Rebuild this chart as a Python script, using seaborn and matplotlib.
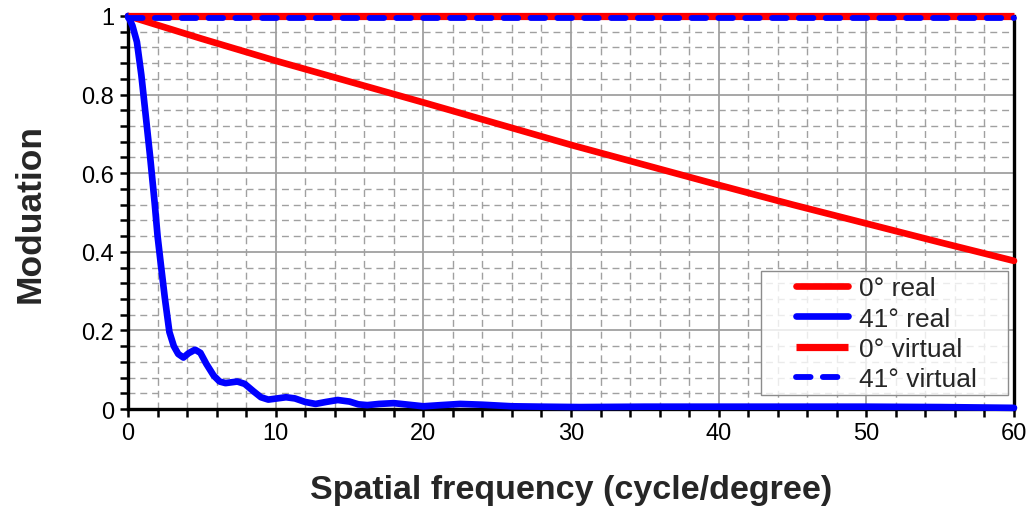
"""
MTF curves: modulation vs spatial frequency
"""
import matplotlib
matplotlib.use('Agg')
import matplotlib.pyplot as plt
from matplotlib.patches import Rectangle
from matplotlib.ticker import MultipleLocator, FuncFormatter
import seaborn as sns
import pandas as pd

# data
freq_red_real = [0, 5, 10, 15, 20, 25, 30, 35, 40, 45, 50, 55, 60]
mod_red_real = [1.0, 0.942, 0.886, 0.833, 0.780, 0.726, 0.672, 0.621, 0.570,
                0.520, 0.472, 0.424, 0.377]

freq_blue_real = [0, 0.3, 0.6, 0.9, 1.15, 1.5, 1.8, 2.0, 2.23, 2.5, 2.8, 3.1,
                  3.4, 3.75, 4.1, 4.54, 4.9, 5.3, 5.8, 6.2, 6.6, 7.0, 7.4,
                  7.9, 8.5, 9.0, 9.5, 10.1, 10.7, 11.3, 12.0, 12.7, 13.4,
                  14.2, 15.0, 15.6, 16.2, 17.0, 18.0, 19.0, 20.0, 21.2, 22.5,
                  24.0, 26.0, 28.0, 30.6, 35, 40, 45, 50, 55, 60]
mod_blue_real = [1.0, 0.975, 0.934, 0.85, 0.763, 0.64, 0.525, 0.44, 0.365,
                 0.28, 0.196, 0.16, 0.14, 0.131, 0.142, 0.151, 0.143, 0.115,
                 0.085, 0.07, 0.066, 0.068, 0.07, 0.064, 0.045, 0.03, 0.024,
                 0.027, 0.03, 0.027, 0.018, 0.013, 0.018, 0.023, 0.019, 0.012,
                 0.01, 0.013, 0.015, 0.011, 0.007, 0.01, 0.013, 0.011, 0.007,
                 0.006, 0.005, 0.006, 0.006, 0.006, 0.006, 0.005, 0.003]

freq_virtual = [0, 60]
mod_red_virtual = [1.0, 1.0]
mod_blue_virtual = [0.996, 0.996]

x_ticks = [0, 10, 20, 30, 40, 50, 60]
y_ticks = [0, 0.2, 0.4, 0.6, 0.8, 1.0]

sns.set_style('white')
plt.rcParams['font.family'] = ['Liberation Sans', 'DejaVu Sans']

fig = plt.figure(figsize=(10.31, 5.10), dpi=100)
ax = fig.add_axes([0.1242, 0.196, 0.8593, 0.7707])

# grid
ax.xaxis.set_major_locator(MultipleLocator(10))
ax.xaxis.set_minor_locator(MultipleLocator(2))
ax.yaxis.set_major_locator(MultipleLocator(0.2))
ax.yaxis.set_minor_locator(MultipleLocator(0.04))
ax.grid(True, which='major', color='#a0a0a0', lw=1.3, ls='-', zorder=0)
ax.grid(True, which='minor', color='#a0a0a0', lw=1.0, ls=(0, (5, 3.5)), zorder=0)
ax.set_axisbelow(True)

df_rr = pd.DataFrame({'f': freq_red_real, 'm': mod_red_real})
df_br = pd.DataFrame({'f': freq_blue_real, 'm': mod_blue_real})
df_v = pd.DataFrame({'f': freq_virtual, 'rv': mod_red_virtual, 'bv': mod_blue_virtual})

sns.lineplot(data=df_rr, x='f', y='m', ax=ax, color='#ff0000', lw=4.8,
             solid_capstyle='round', label='0° real', clip_on=False, zorder=3)
sns.lineplot(data=df_br, x='f', y='m', ax=ax, color='#0000ff', lw=4.8,
             solid_capstyle='round', label='41° real', clip_on=False, zorder=3)
sns.lineplot(data=df_v, x='f', y='rv', ax=ax, color='#ff0000', lw=5.2,
             solid_capstyle='butt', label='0° virtual', clip_on=False, zorder=4)
sns.lineplot(data=df_v, x='f', y='bv', ax=ax, color='#0000ff', lw=4.2,
             linestyle=(0, (2.5, 2.1)), dash_capstyle='round',
             label='41° virtual', clip_on=False, zorder=5)

ax.set_xlim(0, 60)
ax.set_ylim(0, 1)
ax.set_xticks(x_ticks)
ax.set_yticks(y_ticks)
ax.yaxis.set_major_formatter(FuncFormatter(lambda v, p: f'{v:g}'))

for side in ['left', 'bottom', 'right']:
    ax.spines[side].set_color('black')
    ax.spines[side].set_linewidth(2.4)
ax.spines['top'].set_visible(False)

ax.tick_params(axis='both', which='both', direction='out', length=6,
               width=1.8, color='black', labelsize=17, labelcolor='black')
ax.tick_params(axis='x', which='both', bottom=True, pad=3)
ax.tick_params(axis='y', which='both', left=True, pad=4)

ax.set_xlabel('Spatial frequency (cycle/degree)', fontsize=24.5,
              fontweight='bold', labelpad=22)
ax.set_ylabel('Moduation', fontsize=25.5, fontweight='bold', labelpad=25)

# legend box drawn by hand so its side padding can be wider than top/bottom
frame = Rectangle((0.7144, 0.0356), 0.2788, 0.3155, transform=ax.transAxes,
                  facecolor='white', alpha=0.8, edgecolor='none', zorder=6)
ax.add_patch(frame)
border = Rectangle((0.7144, 0.0356), 0.2788, 0.3155, transform=ax.transAxes,
                   facecolor='none', edgecolor='#8c8c8c', lw=1.0, zorder=6)
ax.add_patch(border)

leg = ax.legend(loc='lower right', bbox_to_anchor=(0.958, 0.045),
                borderaxespad=0, borderpad=0, fontsize=19, frameon=False,
                handlelength=1.97, labelspacing=0.24, handletextpad=0.42)
leg.set_zorder(7)

fig.savefig('out.png', dpi=100)
